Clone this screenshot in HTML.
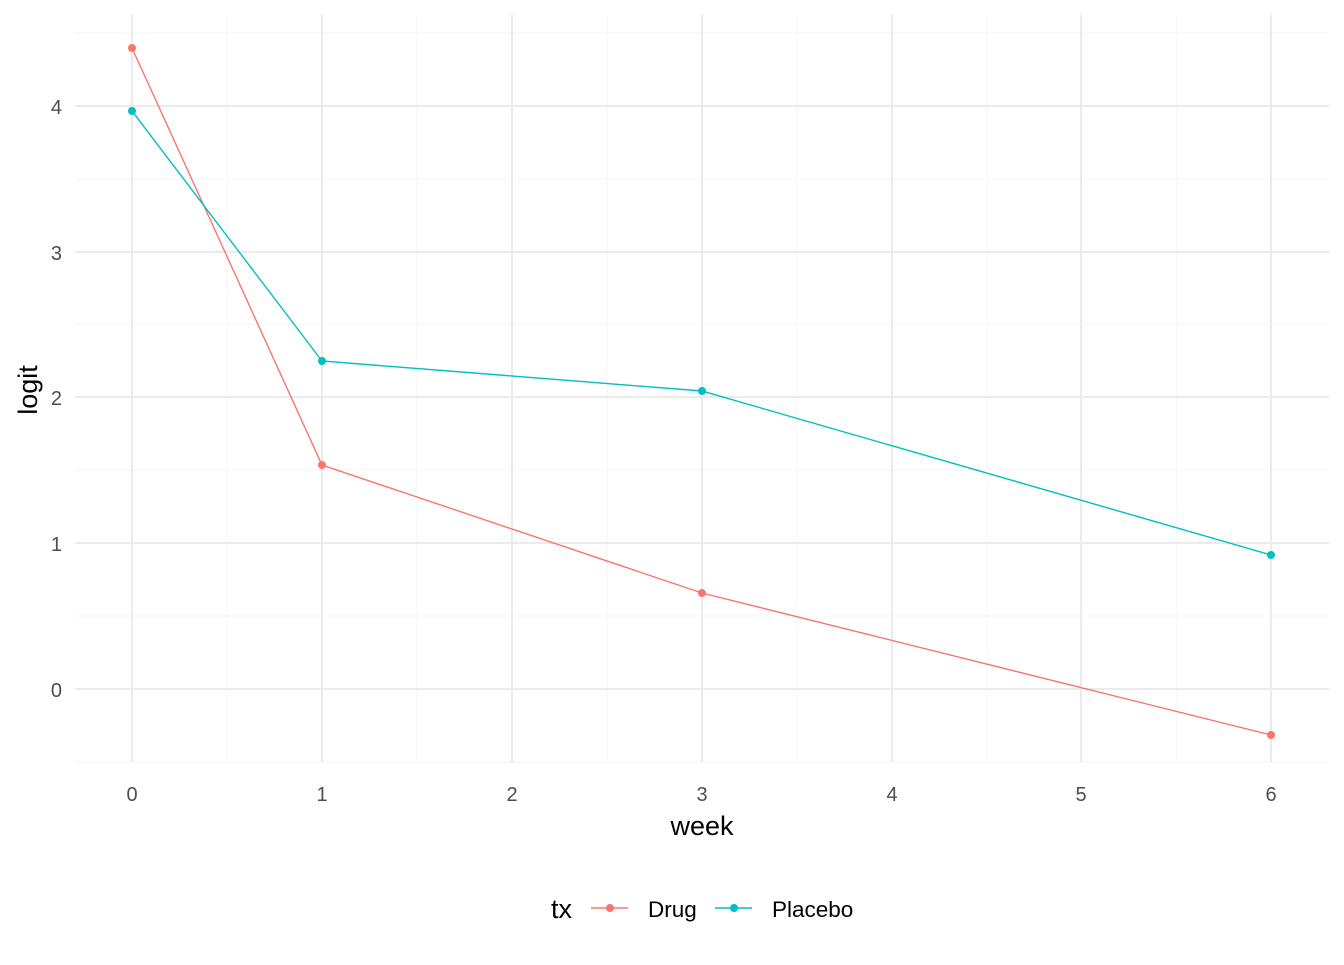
<!DOCTYPE html>
<html><head><meta charset="utf-8"><style>
html,body{margin:0;padding:0;background:#fff;}
svg text{font-family:"Liberation Sans",Arial,sans-serif;}
</style></head><body>
<svg width="1344" height="960" xmlns="http://www.w3.org/2000/svg">
<rect width="1344" height="960" fill="#fff"/>
<g stroke="#F5F5F5" stroke-width="1.1">
<line x1="75" x2="1329" y1="762" y2="762"/><line x1="75" x2="1329" y1="616" y2="616"/>
<line x1="75" x2="1329" y1="470" y2="470"/><line x1="75" x2="1329" y1="324" y2="324"/>
<line x1="75" x2="1329" y1="179" y2="179"/><line x1="75" x2="1329" y1="33" y2="33"/>
<line y1="15" y2="762" x1="227" x2="227"/><line y1="15" y2="762" x1="417" x2="417"/>
<line y1="15" y2="762" x1="607" x2="607"/><line y1="15" y2="762" x1="797" x2="797"/>
<line y1="15" y2="762" x1="987" x2="987"/><line y1="15" y2="762" x1="1177" x2="1177"/>
</g>
<g stroke="#EBEBEB" stroke-width="2">
<line x1="75" x2="1329" y1="689" y2="689"/><line x1="75" x2="1329" y1="543" y2="543"/>
<line x1="75" x2="1329" y1="397" y2="397"/><line x1="75" x2="1329" y1="252" y2="252"/>
<line x1="75" x2="1329" y1="106" y2="106"/>
<line y1="15" y2="762" x1="132" x2="132"/><line y1="15" y2="762" x1="322" x2="322"/>
<line y1="15" y2="762" x1="512" x2="512"/><line y1="15" y2="762" x1="702" x2="702"/>
<line y1="15" y2="762" x1="892" x2="892"/><line y1="15" y2="762" x1="1081" x2="1081"/>
<line y1="15" y2="762" x1="1271" x2="1271"/>
</g>
<polyline points="132,48 322,465 702,593 1271,735" fill="none" stroke="#F8766D" stroke-width="1.4"/>
<polyline points="132,111 322,361 702,391 1271,555" fill="none" stroke="#00BFC4" stroke-width="1.4"/>
<g fill="#F8766D"><circle cx="132" cy="48" r="4"/><circle cx="322" cy="465" r="4"/><circle cx="702" cy="593" r="4"/><circle cx="1271" cy="735" r="4"/></g>
<g fill="#00BFC4"><circle cx="132" cy="111" r="4"/><circle cx="322" cy="361" r="4"/><circle cx="702" cy="391" r="4"/><circle cx="1271" cy="555" r="4"/></g>
<g fill="#4D4D4D" font-size="20" text-anchor="end">
<text x="62" y="697">0</text><text x="62" y="551">1</text><text x="62" y="405">2</text><text x="62" y="260">3</text><text x="62" y="114">4</text>
</g>
<g fill="#4D4D4D" font-size="20" text-anchor="middle">
<text x="132" y="801">0</text><text x="322" y="801">1</text><text x="512" y="801">2</text><text x="702" y="801">3</text><text x="892" y="801">4</text><text x="1081" y="801">5</text><text x="1271" y="801">6</text>
</g>
<text x="702" y="835" font-size="27" text-anchor="middle" fill="#000">week</text>
<text transform="translate(37,390) rotate(-90)" font-size="27" text-anchor="middle" fill="#000">logit</text>
<text x="551" y="918" font-size="27" fill="#000">tx</text>
<line x1="591" x2="628" y1="908" y2="908" stroke="#F8766D" stroke-width="1.4"/><circle cx="610" cy="908" r="4" fill="#F8766D"/>
<text x="648" y="917" font-size="22.5" fill="#000">Drug</text>
<line x1="715" x2="752" y1="908" y2="908" stroke="#00BFC4" stroke-width="1.4"/><circle cx="734" cy="908" r="4" fill="#00BFC4"/>
<text x="772" y="917" font-size="22.5" fill="#000">Placebo</text>
</svg>
</body></html>
